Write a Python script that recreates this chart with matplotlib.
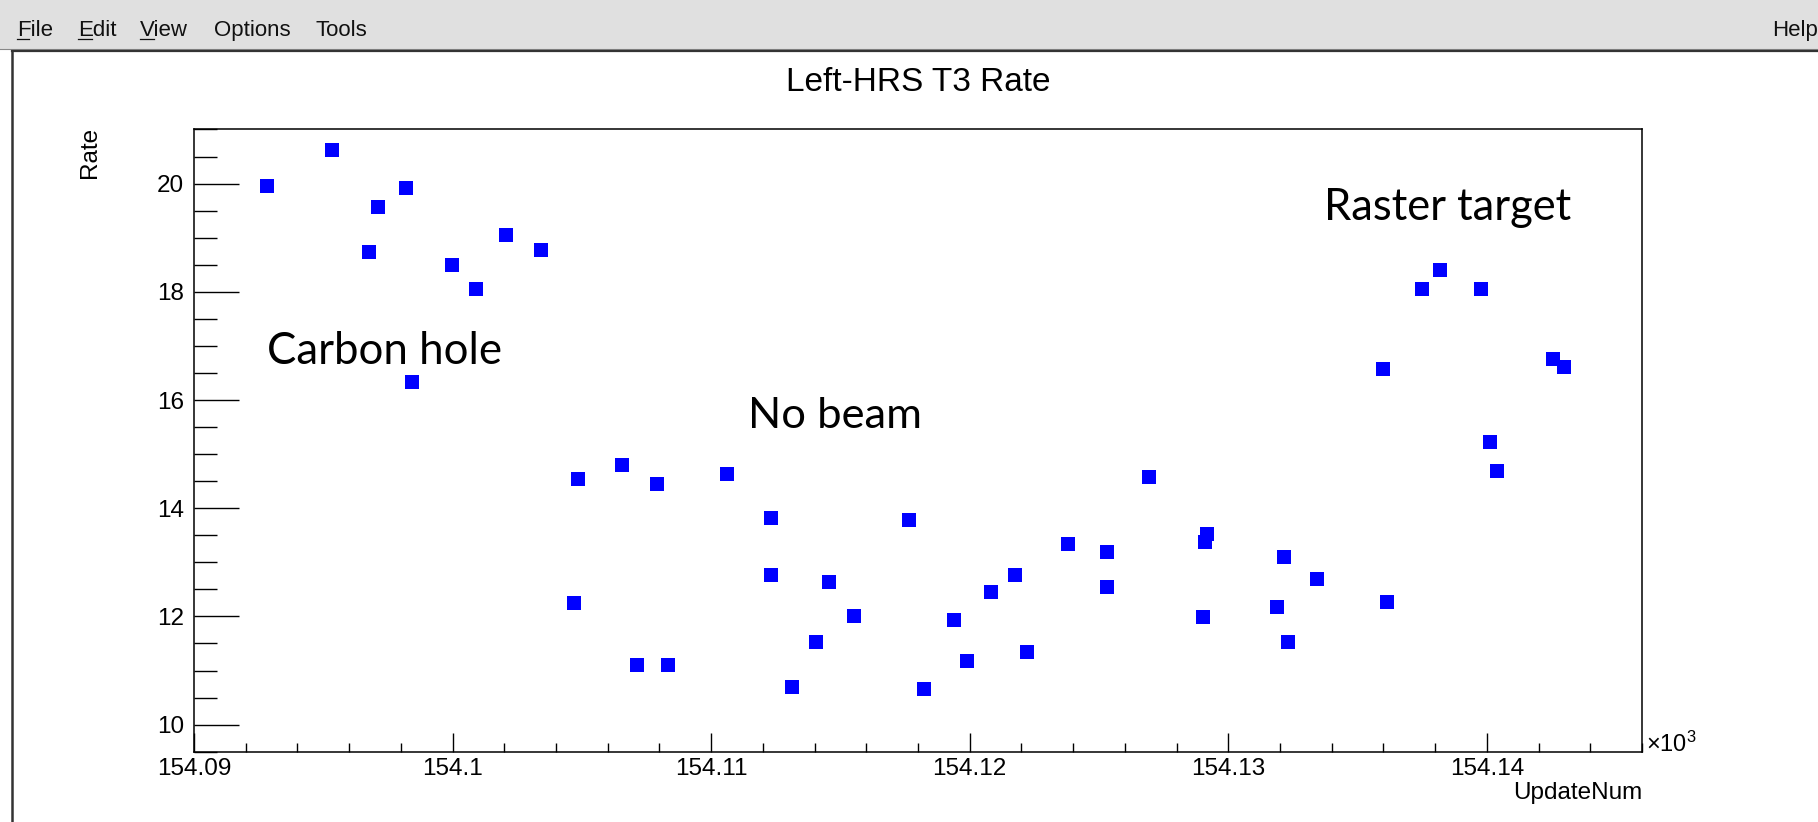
import matplotlib
matplotlib.use("Agg")
import matplotlib.pyplot as plt
from matplotlib.patches import Rectangle
from matplotlib.lines import Line2D

plt.rcParams['font.family'] = ['Liberation Sans', 'DejaVu Sans']
plt.rcParams['mathtext.fontset'] = 'custom'
plt.rcParams['mathtext.rm'] = 'Liberation Sans'
plt.rcParams['mathtext.it'] = 'Liberation Sans'

# ---------------- data (UpdateNum in units of 10^3) ----------------
update_num = [154.09284, 154.09533, 154.09677, 154.09712, 154.09820, 154.09842, 154.09997, 154.10090,
              154.10206, 154.10341, 154.10485, 154.10471, 154.10655, 154.10713, 154.10791, 154.10833,
              154.11062, 154.11233, 154.11233,
              154.11313, 154.11406, 154.11457, 154.11551, 154.11766, 154.11824, 154.11939, 154.11990,
              154.12083, 154.12176, 154.12220, 154.12382,
              154.12530, 154.12530, 154.12694, 154.12916, 154.12909, 154.12901, 154.13216, 154.13188,
              154.13232, 154.13345,
              154.13599, 154.13613, 154.13749, 154.13819, 154.13976, 154.14012, 154.14040, 154.14254,
              154.14297]
rate = [19.95, 20.63, 18.74, 19.57, 19.91, 16.33, 18.50, 18.05,
        19.05, 18.77, 14.54, 12.24, 14.79, 11.10, 14.44, 11.10,
        14.64, 13.82, 12.76,
        10.69, 11.52, 12.63, 12.00, 13.79, 10.66, 11.94, 11.17,
        12.45, 12.76, 11.34, 13.34,
        13.20, 12.55, 14.58, 13.52, 13.38, 11.99, 13.10, 12.17,
        11.52, 12.69,
        16.58, 12.27, 18.05, 18.40, 18.05, 15.23, 14.68, 16.75,
        16.61]

x_ticks = [154.09, 154.10, 154.11, 154.12, 154.13, 154.14]
x_tick_labels = ['154.09', '154.1', '154.11', '154.12', '154.13', '154.14']
y_ticks = [10, 12, 14, 16, 18, 20]
y_tick_labels = ['10', '12', '14', '16', '18', '20']
x_range = (154.09, 154.146)
y_range = (9.5, 21.0)

title = 'Left-HRS T3 Rate'
annotations = [('Carbon hole', 267, 364, 235), ('No beam', 748, 428, 174), ('Raster target', 1324, 220, 248)]
menu_items = [('File', 17), ('Edit', 78), ('View', 140), ('Options', 214), ('Tools', 316)]

# ---------------- figure ----------------
W, H = 1818, 822
fig = plt.figure(figsize=(W / 100, H / 100), dpi=100)
fig.patch.set_facecolor('white')

# menu bar
fig.add_artist(Rectangle((0, (H - 49) / H), 1, 49 / H, transform=fig.transFigure,
                         facecolor='#e0e0e0', edgecolor='none', zorder=0))
for name, px in menu_items:
    fig.text(px / W, (H - 36) / H, name, fontsize=16, va='baseline', ha='left', color='#111111')
    if name in ('File', 'Edit', 'View'):
        uw = {'File': 12, 'Edit': 14, 'View': 14}[name]
        fig.add_artist(Line2D([px / W, (px + uw) / W], [(H - 39) / H] * 2,
                              transform=fig.transFigure, color='#111111', lw=0.9))
fig.text(1772 / W, (H - 36) / H, 'Help', fontsize=16, va='baseline', ha='left', color='#111111')

# canvas border
fig.add_artist(Line2D([0, 1], [(H - 49) / H] * 2, transform=fig.transFigure,
                      color='#888888', lw=0.8))
fig.add_artist(Line2D([12 / W, 1], [(H - 51) / H] * 2, transform=fig.transFigure,
                      color='#333333', lw=1.6))
fig.add_artist(Line2D([12 / W, 12 / W], [0, (H - 51) / H], transform=fig.transFigure,
                      color='#333333', lw=1.8))

# axes
left, right, top, bottom = 194, 1642, 129.5, 751.7
ax = fig.add_axes([left / W, (H - bottom) / H, (right - left) / W, (bottom - top) / H])
ax.plot(update_num, rate, linestyle='none', marker='s', color='#0000ff',
        markersize=10.7, markeredgewidth=0, zorder=3)

ax.set_xlim(*x_range)
ax.set_ylim(*y_range)
ax.set_xticks(x_ticks)
ax.set_xticklabels(x_tick_labels)
ax.set_yticks(y_ticks)
ax.set_yticklabels(y_tick_labels)

step_x = 0.002
mx = []
v = x_range[0]
while v <= x_range[1] + 1e-9:
    mx.append(v)
    v += step_x
ax.set_xticks(mx, minor=True)
my = []
v = y_range[0]
while v <= y_range[1] + 1e-9:
    my.append(v)
    v += 0.5
ax.set_yticks(my, minor=True)

for s in ax.spines.values():
    s.set_linewidth(1.1)
    s.set_color('black')

ax.tick_params(axis='y', which='major', direction='in', length=32.4, width=1.0,
               left=True, right=False, pad=7.2, labelsize=17.5)
ax.tick_params(axis='y', which='minor', direction='in', length=16.6, width=1.0,
               left=True, right=False)
ax.tick_params(axis='x', which='major', direction='in', length=13.7, width=1.0,
               bottom=True, top=False, pad=4.5, labelsize=17.5)
ax.tick_params(axis='x', which='minor', direction='in', length=6.7, width=1.0,
               bottom=True, top=False)

ax.set_title(title, fontsize=24, pad=28)

ax.set_xlabel('UpdateNum', fontsize=17.5, loc='right')
ax.xaxis.set_label_coords(1.0, (bottom - 793) / (bottom - top))
ax.xaxis.label.set_va('center')
ax.set_ylabel('Rate', fontsize=17.5, loc='top')
ax.yaxis.set_label_coords((90 - left) / (right - left), 1.005)
ax.yaxis.label.set_va('center')

ax.text(1.0 + 4 / (right - left), 0.0, r'$\mathregular{\times10^{3}}$', transform=ax.transAxes,
        fontsize=17, ha='left', va='baseline')

# annotations (Calibri-like)
texts = []
for txt, px, py, tw in annotations:
    t = ax.text((px - left) / (right - left), (bottom - py) / (bottom - top), txt,
                transform=ax.transAxes, fontsize=34, family=['Lato', 'DejaVu Sans'],
                ha='left', va='baseline', color='black')
    texts.append((t, tw))

fig.canvas.draw()
r = fig.canvas.get_renderer()
for t, tw in texts:
    w = t.get_window_extent(r).width
    t.set_fontsize(t.get_fontsize() * tw / w)

fig.savefig('out.png', dpi=100)
